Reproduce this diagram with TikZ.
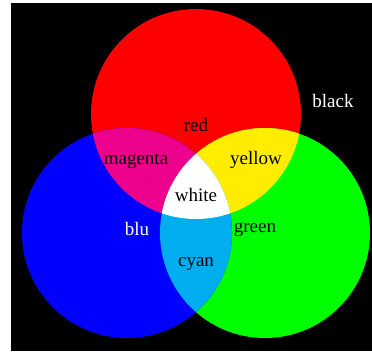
\documentclass[tikz,border=0pt]{standalone}
\usepackage{fontspec}
\setmainfont{Liberation Serif}
\definecolor{cR}{RGB}{255,0,0}
\definecolor{cG}{RGB}{0,255,0}
\definecolor{cB}{RGB}{0,0,255}
\definecolor{cM}{RGB}{236,0,140}
\definecolor{cY}{RGB}{255,237,0}
\definecolor{cC}{RGB}{0,174,239}
\tikzset{lbl/.style={font=\fontsize{19}{22}\selectfont, inner sep=0pt, anchor=base}}
\begin{document}
\begin{tikzpicture}[x=1pt,y=-1pt]
\useasboundingbox (0,0) rectangle (372,351);
\fill[black] (11,3) rectangle (372,351);
\coordinate (R) at (196,114);
\coordinate (B) at (127,233);
\coordinate (G) at (265,233);
\def\rr{105}
\fill[cR] (R) circle (\rr);
\fill[cG] (G) circle (\rr);
\fill[cB] (B) circle (\rr);
\begin{scope}
\clip (R) circle (\rr);
\fill[cM] (B) circle (\rr);
\fill[cY] (G) circle (\rr);
\end{scope}
\begin{scope}
\clip (B) circle (\rr);
\fill[cC] (G) circle (\rr);
\end{scope}
\begin{scope}
\clip (R) circle (\rr);
\clip (B) circle (\rr);
\fill[white] (G) circle (\rr);
\end{scope}
\node[lbl] (tred) at (196,131) {red};
\node[lbl] (tmag) at (136,164) {magenta};
\node[lbl] (tyel) at (256,164) {yellow};
\node[lbl] (twhi) at (196,201) {white};
\node[lbl, text=white] (tblu) at (137,235) {blu};
\node[lbl] (tgre) at (255,232) {green};
\node[lbl] (tcya) at (196,266) {cyan};
\node[lbl, text=white] (tbla) at (333,107) {black};
\end{tikzpicture}
\end{document}
